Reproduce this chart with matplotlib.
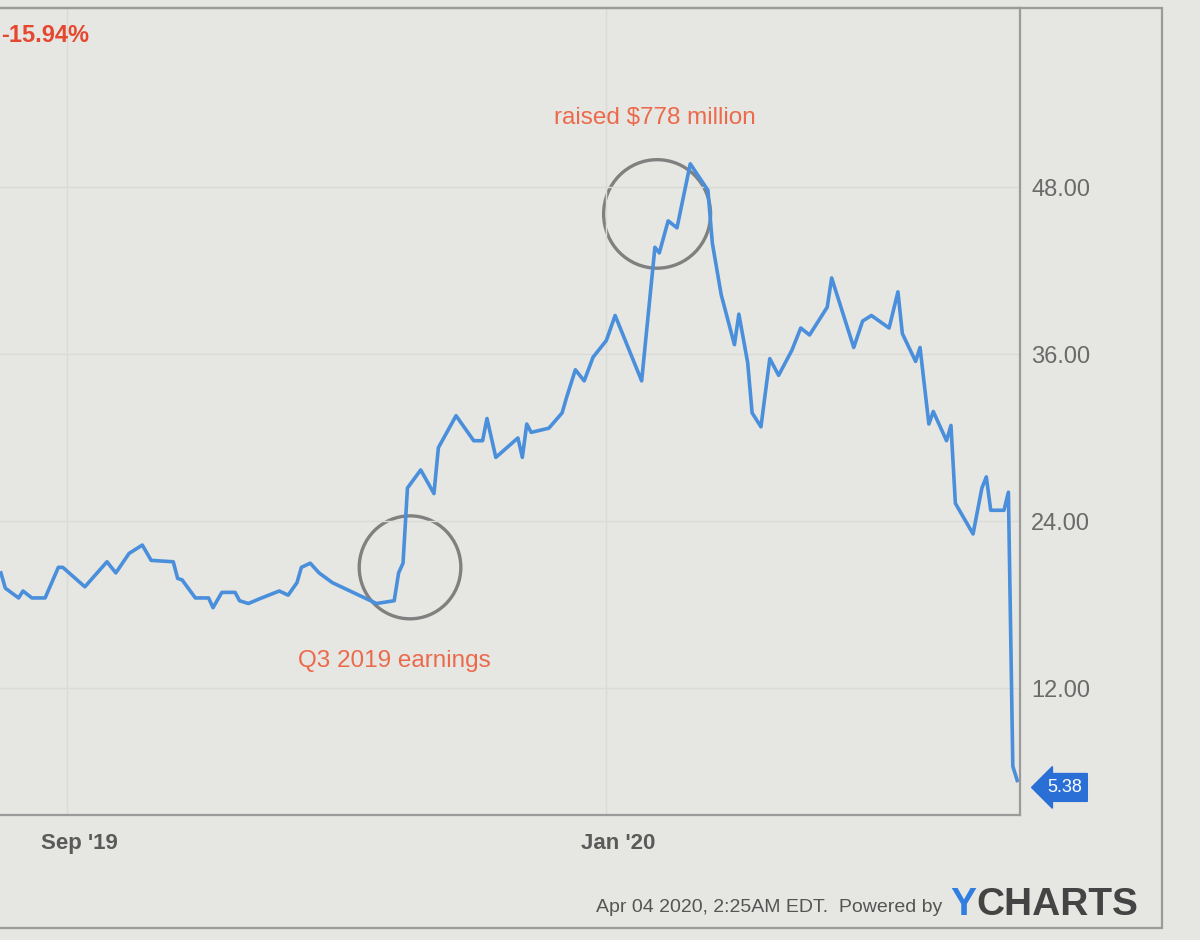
import pandas as pd
import matplotlib
matplotlib.use("Agg")
import matplotlib.pyplot as plt
import matplotlib.dates as mdates
from matplotlib.patches import Ellipse, Rectangle
from matplotlib.transforms import ScaledTranslation

plt.rcParams['font.family'] = ['Liberation Sans', 'DejaVu Sans']

# Closing prices (approximate)
dates = [
    "2019-08-17", "2019-08-18", "2019-08-21", "2019-08-22", "2019-08-24", "2019-08-27",
    "2019-08-30", "2019-08-31", "2019-09-05", "2019-09-10", "2019-09-12", "2019-09-15",
    "2019-09-18", "2019-09-20", "2019-09-25", "2019-09-26", "2019-09-27", "2019-09-30",
    "2019-10-03", "2019-10-04", "2019-10-06", "2019-10-09", "2019-10-10", "2019-10-12",
    "2019-10-15", "2019-10-19", "2019-10-21", "2019-10-23", "2019-10-24", "2019-10-26",
    "2019-10-28", "2019-10-31", "2019-11-02", "2019-11-06", "2019-11-10", "2019-11-14",
    "2019-11-15", "2019-11-16", "2019-11-17", "2019-11-20", "2019-11-23", "2019-11-24",
    "2019-11-28", "2019-12-02", "2019-12-04", "2019-12-05", "2019-12-07", "2019-12-12",
    "2019-12-13", "2019-12-14", "2019-12-15", "2019-12-19", "2019-12-22", "2019-12-23",
    "2019-12-25", "2019-12-27", "2019-12-29", "2020-01-01", "2020-01-03", "2020-01-09",
    "2020-01-12", "2020-01-13", "2020-01-15", "2020-01-17", "2020-01-20", "2020-01-24",
    "2020-01-25", "2020-01-27", "2020-01-30", "2020-01-31", "2020-02-02", "2020-02-03",
    "2020-02-05", "2020-02-07", "2020-02-09", "2020-02-12", "2020-02-14", "2020-02-16",
    "2020-02-20", "2020-02-21", "2020-02-26", "2020-02-28", "2020-03-01", "2020-03-05",
    "2020-03-07", "2020-03-08", "2020-03-11", "2020-03-12", "2020-03-14", "2020-03-15",
    "2020-03-18", "2020-03-19", "2020-03-20", "2020-03-24", "2020-03-26", "2020-03-27",
    "2020-03-28", "2020-03-31", "2020-04-01", "2020-04-02", "2020-04-03",
]
prices = [
    20.3, 19.2, 18.5, 19.0, 18.5, 18.5,
    20.7, 20.7, 19.3, 21.1, 20.3, 21.7,
    22.3, 21.2, 21.1, 19.9, 19.8, 18.5,
    18.5, 17.8, 18.9, 18.9, 18.3, 18.1,
    18.5, 19.0, 18.7, 19.6, 20.7, 21.0,
    20.3, 19.6, 19.3, 18.7, 18.1, 18.3,
    20.3, 21.0, 26.4, 27.7, 26.0, 29.3,
    31.6, 29.8, 29.8, 31.4, 28.6, 30.0,
    28.6, 31.0, 30.4, 30.7, 31.8, 32.9,
    34.9, 34.1, 35.8, 37.0, 38.8, 34.1,
    43.7, 43.3, 45.6, 45.1, 49.7, 47.8,
    44.0, 40.3, 36.7, 38.9, 35.4, 31.8,
    30.8, 35.7, 34.5, 36.3, 37.9, 37.4,
    39.4, 41.5, 36.5, 38.4, 38.8, 37.9,
    40.5, 37.5, 35.5, 36.5, 31.0, 31.9,
    29.8, 30.9, 25.3, 23.1, 26.4, 27.2,
    24.8, 24.8, 26.1, 6.4, 5.38,
]

y_ticks = [12, 24, 36, 48]
x_ticks = ["2019-09-01", "2020-01-01"]
x_tick_labels = ["Sep '19", "Jan '20"]
change_label = "-15.94%"

# annotation text and circled regions: (center date, center price, width days, height)
notes = [("Q3 2019 earnings", "2019-11-14", 14.0), ("raised $778 million", "2020-01-12", 53.0)]
circles = [("2019-11-17 14:00", 20.7, 23.0, 7.4), ("2020-01-12 12:00", 46.1, 24.2, 7.8)]

BG = "#e6e6e2"
BLUE = "#4a8fdb"
ORANGE = "#ec6a4c"

x = pd.to_datetime(dates)

fig = plt.figure(figsize=(12, 9.4), dpi=100, facecolor=BG)
ax = fig.add_axes([0.0, 1 - 815 / 940, 1020 / 1200, (815 - 8) / 940])
ax.set_facecolor(BG)

ax.plot(x, prices, color=BLUE, lw=2.6, solid_joinstyle="round")

ax.set_xlim(pd.Timestamp("2019-08-16 19:00"), pd.Timestamp("2020-04-03 15:00"))
ax.set_ylim(2.9, 60.9)

ax.yaxis.tick_right()
ax.set_yticks(y_ticks)
ax.set_yticklabels([f"{v:.2f}" for v in y_ticks])
ax.tick_params(axis="y", length=0, pad=8, labelsize=17, labelcolor="#6a6a6a")
ax.set_xticks(pd.to_datetime(x_ticks))
ax.set_xticklabels(x_tick_labels, fontweight="bold")
ax.tick_params(axis="x", length=0, pad=13, labelsize=16, labelcolor="#5a5a5a")
for lab in ax.get_xticklabels():
    lab.set_transform(lab.get_transform() + ScaledTranslation(0.12, 0, fig.dpi_scale_trans))

ax.grid(True, color="#dadad6", lw=1.0)
ax.spines["left"].set_visible(False)
for s in ["top", "right", "bottom"]:
    ax.spines[s].set_color("#9a9a9a")
    ax.spines[s].set_linewidth(1.6)

# circles around events
for c_date, c_val, w, h in circles:
    ax.add_patch(Ellipse((mdates.date2num(pd.Timestamp(c_date)), c_val), w, h,
                         fill=False, edgecolor="#808080", lw=2.4))

for txt, d, v in notes:
    ax.text(pd.Timestamp(d), v, txt, color=ORANGE, fontsize=17.5, ha="center", va="center")

ax.text(0.001, 0.966, change_label, transform=ax.transAxes, color="#e5482f",
        fontsize=17, fontweight="bold", ha="left", va="center")

# last value flag
ax.annotate(f"{prices[-1]:.2f}", xy=(x[-1], prices[-1]), xytext=(34, -5),
            textcoords="offset points", color="white", fontsize=13, va="center", ha="center",
            bbox=dict(boxstyle="larrow,pad=0.3", fc="#2a6fd6", ec="#2a6fd6"),
            annotation_clip=False)

# outer frame
fig.add_artist(Rectangle((-0.01, 1 - 928 / 940), 1162 / 1200 + 0.01, (928 - 8) / 940,
                         transform=fig.transFigure, fill=False, ec="#9a9a9a", lw=1.6))

fig.text(942 / 1200, 1 - 908 / 940, "Apr 04 2020, 2:25AM EDT.  Powered by",
         color="#555555", fontsize=14, ha="right", va="center")
t = fig.text(950 / 1200, 1 - 905 / 940, "Y", color="#2f7ee0", fontsize=28,
             fontweight="bold", ha="left", va="center")
fig.canvas.draw()
bb = t.get_window_extent()
fig.text(bb.x1 / 1200, 1 - 905 / 940, "CHARTS", color="#444444", fontsize=28,
         fontweight="bold", ha="left", va="center")

fig.savefig("out.png", dpi=100, facecolor=BG)
